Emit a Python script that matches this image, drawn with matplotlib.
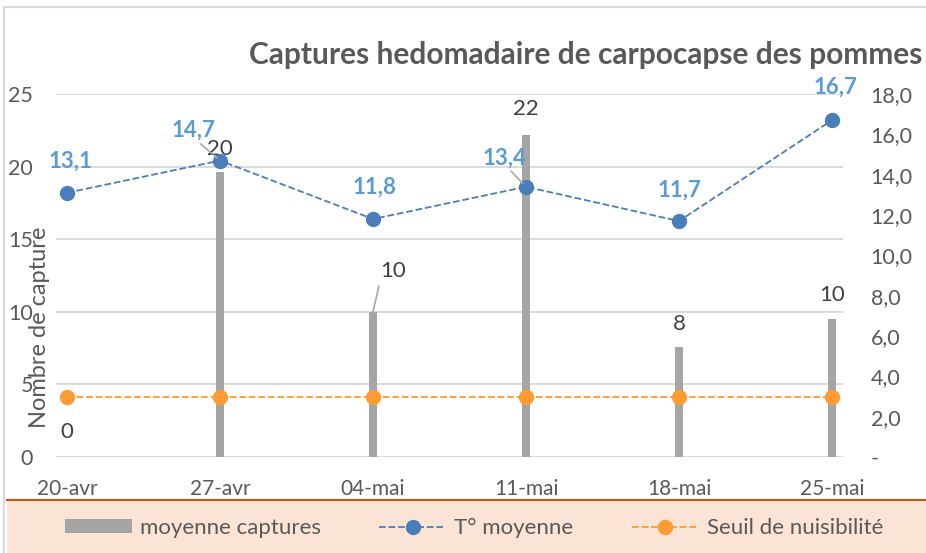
import matplotlib
matplotlib.use("Agg")
import matplotlib.pyplot as plt
from matplotlib.patches import Rectangle, Patch
from matplotlib.lines import Line2D

plt.rcParams['font.family'] = ['Lato', 'DejaVu Sans']

dates = ["20-avr", "27-avr", "04-mai", "11-mai", "18-mai", "25-mai"]
captures = [0, 19.6, 10.0, 22.2, 7.6, 9.5]
temperature = [13.1, 14.7, 11.8, 13.4, 11.7, 16.7]
seuil = [3.0, 3.0, 3.0, 3.0, 3.0, 3.0]
left_ticks = [0, 5, 10, 15, 20, 25]
right_ticks = [0, 2, 4, 6, 8, 10, 12, 14, 16, 18]

W, H = 926, 553
fig = plt.figure(figsize=(W / 100, H / 100), dpi=100)

# outer border
fig.add_artist(Line2D([4 / W, 4 / W], [0, 1 - 7 / H], color='#D9D9D9', lw=1.5))
fig.add_artist(Line2D([4 / W, 1], [1 - 7 / H, 1 - 7 / H], color='#D9D9D9', lw=1.5))
# legend box
fig.add_artist(Rectangle((7 / W, 0), 1 - 7 / W, 1 - 500 / H, transform=fig.transFigure,
                         facecolor='#FBE4D5', edgecolor='none', zorder=0))
fig.add_artist(Line2D([7 / W, 1], [1 - 500 / H, 1 - 500 / H], color='#C55A11', lw=1.5))

ax = fig.add_axes([56 / W, 1 - 457 / H, (843 - 56) / W, (457 - 94) / H])
ax2 = ax.twinx()
x = list(range(len(dates)))
gray = '#A5A5A5'
blue = '#4A7EBB'
lblue = '#5B9BD5'
orange = '#FF9B33'
txt = '#595959'

ax.bar(x, captures, width=0.052, color=gray, zorder=2)
ax.set_ylim(0, 25)
ax.set_xlim(-0.072, 5.072)
ax.set_yticks(left_ticks)
ax.set_yticklabels([str(t) for t in left_ticks])
ax.grid(axis='y', color='#D9D9D9', lw=1.3, zorder=0)
ax.set_axisbelow(True)
ax.set_xticks(x)
ax.set_xticklabels(dates)
ax.tick_params(axis='x', length=0, pad=16, labelsize=15, labelcolor=txt)
ax.tick_params(axis='y', length=0, pad=16.5, labelsize=15.5, labelcolor=txt)
for s in ax.spines.values():
    s.set_visible(False)
for s in ax2.spines.values():
    s.set_visible(False)

ax2.plot(x, seuil, ls='--', color=orange, lw=1.3, marker='o', ms=10, zorder=3)
ax2.plot(x, temperature, ls='--', color=blue, lw=1.3, marker='o', ms=10, zorder=4)
ax2.set_ylim(0, 18)
ax2.set_yticks(right_ticks)
ax2.set_yticklabels(['-' if t == 0 else f"{t:.1f}".replace('.', ',') for t in right_ticks])
ax2.tick_params(axis='y', length=0, pad=20, labelsize=15.5, labelcolor=txt)

fig.text(40 / W, 1 - 327 / H, "Nombre de capture", rotation=90, ha='center', va='center',
         fontsize=17, color=txt)

# temperature labels
toffs = [(3, 32), (-27, 30), (2, 32), (-22, 29), (0, 31), (3, 33)]
leader_t = [False, True, False, True, False, False]
for i, (v, off) in enumerate(zip(temperature, toffs)):
    kw = {}
    if leader_t[i]:
        kw['arrowprops'] = dict(arrowstyle='-', color='#A6A6A6', lw=1.2, shrinkA=0, shrinkB=3,
                                relpos=(0.6, 0.0))
    ax2.annotate(f"{v:.1f}".replace('.', ','), (i, v), xytext=off, textcoords='offset pixels',
                 ha='center', va='center', fontsize=16, fontweight='bold', color=lblue,
                 zorder=6, **kw)

# capture labels
coffs = [(0, 25), (0, 23), (20, 41), (0, 26), (0, 23), (0, 24)]
leader_c = [False, False, True, False, False, False]
for i, (v, off) in enumerate(zip(captures, coffs)):
    kw = {}
    if leader_c[i]:
        kw['arrowprops'] = dict(arrowstyle='-', color='#A6A6A6', lw=1.2, shrinkA=2, shrinkB=0,
                                relpos=(0.0, 0.0))
    ax.annotate(str(int(v + 0.5)), (i, v), xytext=off, textcoords='offset pixels',
                ha='center', va='center', fontsize=16, color='#404040', zorder=6, **kw)

fig.text(586 / W, 1 - 55 / H, "Captures hedomadaire de carpocapse des pommes",
         ha='center', va='center', fontsize=21.5, fontweight='bold', color=txt)

handles = [Patch(facecolor=gray, edgecolor='none'),
           Line2D([], [], ls='--', color=blue, lw=1.3, marker='o', ms=10),
           Line2D([], [], ls='--', color=orange, lw=1.3, marker='o', ms=10)]
labels = ["moyenne captures", "T° moyenne", "Seuil de nuisibilité"]
fig.legend(handles, labels, loc='center', bbox_to_anchor=(474 / W, 1 - 528 / H), ncol=3,
           frameon=False, fontsize=16, handlelength=3.0, handleheight=0.6, columnspacing=2.65,
           handletextpad=0.36, labelcolor=txt)

fig.savefig("out.png", dpi=100)
